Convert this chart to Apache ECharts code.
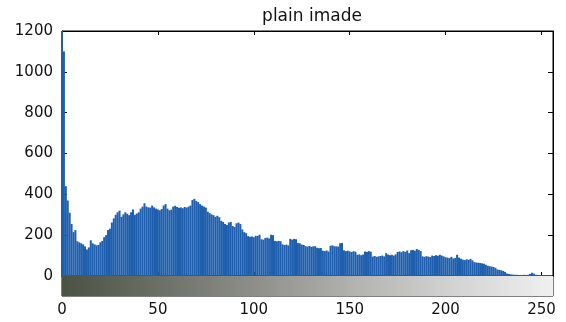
<!DOCTYPE html>
<html>
<head>
<meta charset="utf-8">
<script src="https://cdn.jsdelivr.net/npm/echarts@6/dist/echarts.min.js"></script>
<style>
  html, body { margin: 0; padding: 0; background: #fff; }
  #chart { width: 566px; height: 322px; }
</style>
</head>
<body>
<div id="chart"></div>
<script>
// Gray-level histogram of the plain image (bins 0..255)
const grayLevels = Array.from({ length: 256 }, (_, i) => i);

const pixelCounts = [
  1200, 1100, 440, 370, 310, 255, 215, 225, 170, 165,
  160, 155, 145, 130, 140, 175, 160, 155, 150, 152,
  165, 172, 190, 200, 225, 232, 262, 282, 300, 312,
  320, 290, 302, 312, 305, 298, 312, 326, 300, 306,
  312, 330, 340, 356, 340, 336, 335, 345, 336, 330,
  326, 322, 328, 345, 352, 330, 322, 325, 340, 344,
  338, 334, 336, 332, 338, 335, 340, 345, 372, 378,
  368, 362, 352, 345, 340, 335, 315, 308, 302, 298,
  290, 295, 288, 270, 265, 255, 250, 262, 265, 245,
  240, 258, 262, 255, 228, 215, 210, 195, 192, 194,
  190, 197, 196, 202, 180, 178, 186, 188, 184, 202,
  200, 172, 170, 172, 170, 155, 152, 154, 150, 182,
  178, 182, 180, 162, 160, 154, 152, 146, 144, 147,
  143, 145, 146, 138, 136, 137, 124, 122, 125, 120,
  148, 150, 146, 145, 144, 160, 162, 126, 122, 124,
  120, 118, 121, 119, 104, 106, 102, 105, 120, 118,
  122, 119, 95, 98, 94, 96, 98, 100, 96, 112,
  105, 102, 104, 100, 106, 118, 120, 116, 122, 118,
  125, 112, 126, 128, 124, 132, 128, 122, 96, 94,
  97, 95, 93, 100, 98, 102, 99, 104, 100, 96,
  92, 90, 88, 94, 86, 88, 104, 90, 85, 80,
  78, 82, 79, 84, 76, 68, 66, 65, 64, 62,
  60, 55, 50, 48, 46, 44, 40, 32, 30, 28,
  25, 20, 12, 10, 8, 7, 6, 6, 5, 4,
  5, 6, 5, 6, 10, 16, 12, 6, 5, 4,
  5, 4, 3, 4, 3, 2
];

const xTicks = [0, 50, 100, 150, 200, 250];

// Gray ramp shown under the histogram, from black to white
const rampRange = [0, 256];
const rampStops = ['#4a5244', '#6c7066', '#8f908c', '#b3b3b1', '#d3d3d3', '#f0f0f0'];

const labelFont = { fontFamily: 'DejaVu Sans', fontSize: 15, color: '#111' };
const plain = v => String(v);
const blackLine = { show: true, onZero: false, lineStyle: { color: '#000', width: 1 } };

const chart = echarts.init(document.getElementById('chart'), null, { renderer: 'canvas' });

chart.setOption({
  animation: false,
  backgroundColor: '#fff',
  title: {
    text: 'plain imade',
    left: 307,
    top: 3,
    textAlign: 'center',
    textStyle: { fontFamily: 'DejaVu Sans', fontSize: 17, fontWeight: 'normal', color: '#111' }
  },
  grid: [
    { left: 62, right: 13, top: 31, height: 245, show: true, borderColor: '#000', borderWidth: 1, backgroundColor: 'transparent' },
    { left: 62, right: 13, top: 276, height: 20, show: true, borderColor: '#000', borderWidth: 1, backgroundColor: 'transparent' }
  ],
  xAxis: [
    {
      gridIndex: 0, type: 'value', min: 0, max: 256, position: 'bottom',
      axisLine: blackLine,
      axisTick: { show: true, inside: true, length: 4, customValues: xTicks, lineStyle: { color: '#000' } },
      axisLabel: { show: false },
      splitLine: { show: false }
    },
    {
      gridIndex: 0, type: 'value', min: 0, max: 256, position: 'top',
      axisLine: blackLine,
      axisTick: { show: true, inside: true, length: 4, customValues: xTicks, lineStyle: { color: '#000' } },
      axisLabel: { show: false },
      splitLine: { show: false }
    },
    {
      gridIndex: 1, type: 'value', min: 0, max: 256, position: 'bottom',
      axisLine: { show: false, onZero: false },
      axisTick: { show: false },
      axisLabel: Object.assign({ show: true, margin: 7, customValues: xTicks, formatter: plain }, labelFont),
      splitLine: { show: false }
    }
  ],
  yAxis: [
    {
      gridIndex: 0, type: 'value', min: 0, max: 1200, interval: 200, position: 'left',
      axisLine: blackLine,
      axisTick: { show: true, inside: true, length: 5, lineStyle: { color: '#000' } },
      axisLabel: Object.assign({ show: true, margin: 9, formatter: plain }, labelFont),
      splitLine: { show: false }
    },
    {
      gridIndex: 0, type: 'value', min: 0, max: 1200, interval: 200, position: 'right',
      axisLine: blackLine,
      axisTick: { show: true, inside: true, length: 5, lineStyle: { color: '#000' } },
      axisLabel: { show: false },
      splitLine: { show: false }
    },
    {
      gridIndex: 1, type: 'value', min: 0, max: 1, show: false,
      axisLine: { show: false, onZero: false }
    }
  ],
  series: [
    {
      type: 'bar',
      xAxisIndex: 0,
      yAxisIndex: 0,
      barWidth: 2,
      itemStyle: { color: '#1f5fae' },
      data: grayLevels.map((g, i) => [g, pixelCounts[i]])
    },
    {
      type: 'custom',
      xAxisIndex: 2,
      yAxisIndex: 2,
      silent: true,
      data: [rampRange],
      renderItem: function (params, api) {
        const p0 = api.coord([api.value(0), 1]);
        const p1 = api.coord([api.value(1), 0]);
        const stops = rampStops.map((c, k) => ({ offset: k / (rampStops.length - 1), color: c }));
        return {
          type: 'rect',
          shape: { x: p0[0], y: p0[1], width: p1[0] - p0[0], height: p1[1] - p0[1] },
          style: { fill: new echarts.graphic.LinearGradient(0, 0, 1, 0, stops) }
        };
      }
    }
  ]
});
</script>
</body>
</html>
